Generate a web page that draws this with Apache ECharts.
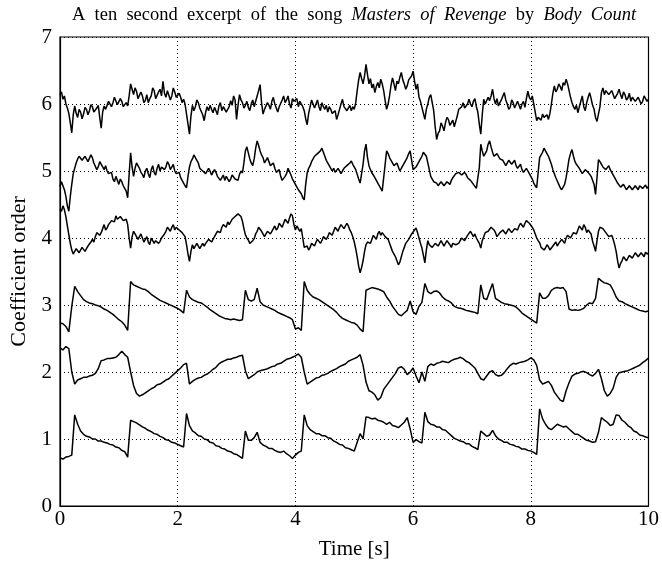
<!DOCTYPE html>
<html>
<head>
<meta charset="utf-8">
<script src="https://cdn.jsdelivr.net/npm/echarts@6/dist/echarts.min.js"></script>
<style>html,body{margin:0;padding:0;background:#fff;}#chart{width:662px;height:567px;}</style>
</head>
<body>
<div id="chart"></div>
<script>
// excerpt length in seconds; samples are evenly spaced over it
const excerptSeconds = 10;
const xTicks = [0, 2, 4, 6, 8, 10];
const yTicks = [0, 1, 2, 3, 4, 5, 6, 7];

// coefficient 1..3: sampled every 0.05 s
const coef1 = [
0.72,0.70,0.73,0.74,0.76,1.36,1.22,1.12,1.07,1.04,1.03,1.00,1.00,0.97,0.97,0.95,0.94,0.92,0.91,0.88,
0.87,0.83,0.81,0.73,1.28,1.26,1.24,1.21,1.18,1.16,1.13,1.11,1.08,1.07,1.04,1.02,0.99,0.98,0.95,0.94,
0.92,0.90,0.88,1.38,1.20,1.12,1.09,1.05,1.04,1.00,0.99,0.95,0.94,0.90,0.89,0.86,0.85,0.82,0.81,0.78,
0.77,0.74,0.71,1.12,0.98,0.98,1.02,1.10,0.95,0.91,0.89,0.86,0.86,0.83,0.81,0.80,0.82,0.78,0.75,0.71,
0.76,0.80,0.82,1.36,1.20,1.14,1.11,1.08,1.08,1.05,1.05,1.02,1.01,0.97,0.95,0.92,0.91,0.87,0.86,0.84,
0.82,0.95,1.08,1.00,1.33,1.32,1.30,1.31,1.28,1.27,1.25,1.22,1.25,1.20,1.19,1.17,1.21,1.25,1.32,1.15,
0.95,0.99,0.96,0.94,1.40,1.26,1.22,1.21,1.18,1.18,1.14,1.13,1.09,1.05,1.01,0.99,0.97,0.96,0.93,0.93,
0.89,0.87,0.84,1.12,1.08,1.04,1.06,1.13,1.05,1.00,0.98,0.95,0.95,0.92,0.91,0.89,0.88,0.85,0.85,0.83,
0.82,0.80,0.77,1.45,1.30,1.22,1.16,1.14,1.18,1.22,1.20,1.18,1.19,1.15,1.11,1.07,1.07,1.04,1.01,0.98,
0.97,0.95,0.96,1.10,1.32,1.28,1.25,1.20,1.22,1.36,1.35,1.28,1.25,1.20,1.17,1.12,1.10,1.06,1.05,1.03,
1.02];

const coef2 = [
2.36,2.33,2.38,2.35,2.00,1.82,1.88,1.90,1.92,1.92,1.94,1.95,1.98,2.05,2.17,2.18,2.20,2.20,2.21,2.22,
2.26,2.31,2.26,2.22,2.00,1.80,1.68,1.64,1.66,1.69,1.72,1.75,1.77,1.81,1.82,1.85,1.88,1.90,1.94,1.98,
2.02,2.06,2.11,2.13,1.82,1.86,1.89,1.91,1.92,1.95,1.97,2.00,2.04,2.07,2.12,2.15,2.17,2.19,2.19,2.21,
2.22,2.24,2.25,2.02,1.90,1.93,1.96,2.00,2.02,2.03,2.04,2.06,2.08,2.09,2.12,2.13,2.16,2.19,2.20,2.22,
2.24,2.27,2.22,2.00,1.82,1.85,1.88,1.91,1.92,1.95,1.96,1.98,2.01,2.03,2.05,2.08,2.10,2.12,2.16,2.18,
2.20,2.22,2.26,2.10,1.85,1.72,1.70,1.66,1.58,1.62,1.74,1.80,1.86,1.92,1.98,2.06,2.08,2.04,1.96,2.00,
2.06,1.94,1.84,2.00,1.86,2.08,2.12,2.10,2.13,2.14,2.16,2.15,2.14,2.17,2.19,2.20,2.22,2.20,2.16,2.14,
2.10,2.06,1.98,1.90,1.88,1.94,2.00,2.02,1.96,1.94,1.95,1.99,2.05,2.10,2.13,2.12,2.14,2.15,2.16,2.18,
2.21,2.18,2.10,1.88,1.82,1.84,1.86,1.80,1.70,1.64,1.58,1.56,1.72,1.84,1.94,1.97,1.98,2.00,2.01,1.99,
1.96,1.94,1.98,2.04,1.90,1.72,1.64,1.68,1.76,1.92,1.99,2.00,2.01,2.02,2.04,2.06,2.08,2.10,2.14,2.17,
2.21];

const coef3 = [
2.73,2.72,2.68,2.60,2.98,3.28,3.20,3.14,3.08,3.05,3.03,3.02,3.00,2.99,2.97,2.94,2.92,2.89,2.86,2.82,
2.78,2.75,2.70,2.62,3.35,3.30,3.28,3.26,3.24,3.23,3.20,3.16,3.13,3.10,3.07,3.05,3.03,3.01,2.99,2.97,
2.95,2.92,2.88,3.22,3.12,3.08,3.06,3.04,3.03,3.00,2.97,2.93,2.90,2.87,2.84,2.82,2.80,2.79,2.78,2.79,
2.78,2.77,2.78,3.22,3.08,3.06,3.08,3.25,3.05,3.00,2.98,2.96,2.94,2.92,2.89,2.87,2.85,2.83,2.81,2.78,
2.64,2.66,2.62,3.35,3.22,3.16,3.12,3.10,3.08,3.05,3.02,2.99,2.96,2.93,2.89,2.84,2.80,2.78,2.76,2.74,
2.73,2.70,2.64,2.60,3.22,3.24,3.26,3.25,3.24,3.22,3.20,3.12,3.06,2.98,2.92,2.86,2.84,2.88,2.92,3.06,
2.90,2.86,2.98,3.04,3.32,3.20,3.17,3.20,3.21,3.18,3.12,3.08,3.06,3.03,2.98,2.96,2.95,2.94,2.92,2.91,
2.90,2.89,2.87,3.30,3.10,3.08,3.20,3.32,3.10,3.07,3.04,3.02,3.01,3.00,2.99,2.97,2.93,2.88,2.85,2.82,
2.79,2.76,2.73,3.18,3.10,3.10,3.14,3.22,3.25,3.26,3.25,3.26,3.20,2.94,2.92,2.93,2.92,2.93,2.95,3.00,
3.03,3.02,3.10,3.40,3.36,3.33,3.32,3.30,3.22,3.12,3.06,3.05,3.02,3.00,2.98,2.96,2.94,2.92,2.91,2.90,
2.91];

// coefficient 4..6: sampled every 0.025 s
const coef4 = [
4.43,4.40,4.48,4.42,4.32,4.18,4.05,3.92,3.82,3.76,3.77,3.84,3.82,3.78,3.80,3.86,3.86,3.80,3.84,3.88,
3.90,3.94,3.98,3.94,4.02,4.08,4.10,4.04,4.08,4.14,4.20,4.12,4.15,4.20,4.22,4.26,4.28,4.24,4.33,4.28,
4.26,4.32,4.30,4.26,4.24,4.28,4.20,4.00,3.85,4.02,4.10,4.06,4.05,3.98,4.02,4.06,4.00,3.94,3.96,4.02,
3.94,3.90,4.00,3.96,3.92,3.96,3.98,3.92,3.95,4.00,4.02,4.06,4.10,4.16,4.13,4.10,4.16,4.20,4.12,4.16,
4.18,4.12,4.14,4.08,4.10,4.02,3.90,3.76,3.65,3.80,3.90,3.84,3.86,3.92,3.90,3.84,3.86,3.92,3.88,3.92,
3.94,3.98,4.00,3.94,3.96,4.02,4.06,4.10,4.12,4.08,4.16,4.20,4.20,4.16,4.24,4.20,4.22,4.28,4.27,4.32,
4.30,4.36,4.35,4.32,4.25,4.14,4.05,4.00,3.97,3.92,3.93,3.96,3.99,4.06,4.10,4.16,4.14,4.10,4.08,4.02,
4.06,4.10,4.12,4.06,4.10,4.14,4.18,4.12,4.15,4.22,4.20,4.16,4.22,4.28,4.26,4.22,4.30,4.36,4.33,4.20,
4.12,4.18,4.16,4.10,4.14,4.00,3.86,3.84,3.88,3.82,3.86,3.92,3.90,3.88,3.94,3.98,3.98,3.92,3.96,4.02,
4.04,3.98,4.02,4.08,4.08,4.04,4.10,4.16,4.14,4.10,4.16,4.20,4.20,4.14,4.16,4.22,4.18,4.12,4.08,4.02,
3.94,3.84,3.72,3.58,3.48,3.56,3.66,3.80,3.90,3.94,3.96,3.92,3.98,4.04,4.02,3.98,4.06,4.10,4.04,4.08,
4.08,4.02,4.04,3.98,3.92,3.86,3.80,3.76,3.72,3.66,3.60,3.64,3.72,3.80,3.86,3.92,3.94,3.98,4.02,4.06,
4.08,4.12,4.15,4.08,4.00,3.92,3.85,3.74,3.63,3.82,3.96,3.90,3.92,3.86,3.88,3.92,3.94,3.88,3.90,3.96,
3.95,3.88,3.92,3.96,3.98,3.90,3.86,3.92,3.94,3.90,3.88,3.92,3.96,4.00,4.02,3.96,3.98,4.04,4.05,4.10,
4.08,4.02,4.06,4.00,3.98,3.92,3.85,3.96,4.02,4.08,4.06,4.10,4.12,4.16,4.18,4.12,4.08,4.02,4.04,4.08,
4.06,4.12,4.10,4.06,4.08,4.14,4.12,4.08,4.10,4.14,4.16,4.12,4.18,4.22,4.20,4.16,4.22,4.26,4.25,4.22,
4.20,4.16,4.12,4.06,4.00,3.96,3.93,3.86,3.88,3.82,3.85,3.90,3.87,3.82,3.84,3.88,3.90,3.94,3.88,3.92,
3.93,3.98,3.96,3.92,4.00,4.04,4.05,4.00,4.02,4.08,4.10,4.06,4.12,4.18,4.16,4.12,4.20,4.16,4.08,4.12,
4.14,4.06,3.95,3.88,3.80,3.96,4.10,4.16,4.18,4.14,4.12,4.08,4.06,4.02,4.00,4.04,3.98,3.90,3.80,3.66,
3.55,3.62,3.66,3.72,3.72,3.66,3.68,3.74,3.74,3.70,3.72,3.78,3.76,3.72,3.73,3.78,3.75,3.72,3.79,3.76,
3.78];

const coef5 = [
4.77,4.84,4.85,4.72,4.62,4.48,4.40,4.62,4.80,4.96,5.04,5.12,5.18,5.22,5.24,5.16,5.14,5.22,5.20,5.14,
5.16,5.24,5.20,5.12,5.10,5.02,5.06,5.14,5.12,5.06,5.02,5.08,5.00,4.96,4.94,4.98,4.88,4.84,4.92,4.86,
4.80,4.88,4.84,4.78,4.76,4.70,4.60,4.95,5.27,5.06,4.92,5.04,5.12,5.08,5.04,4.98,4.95,4.90,5.00,5.04,
4.96,4.90,5.02,5.08,4.98,4.94,5.04,5.10,5.00,5.06,5.08,5.02,5.06,5.14,5.10,5.02,5.04,5.10,5.00,4.96,
4.94,4.98,4.90,4.86,4.82,4.78,4.75,4.92,5.06,5.14,5.18,5.24,5.22,5.16,5.12,5.04,5.06,5.00,5.02,4.96,
4.98,5.04,5.00,4.94,4.95,5.02,4.98,4.92,4.92,4.86,4.90,4.94,4.86,4.92,4.90,4.84,4.88,4.94,4.92,4.88,
4.90,4.86,4.95,5.00,4.97,5.12,5.30,5.36,5.27,5.18,5.12,5.08,5.18,5.34,5.45,5.38,5.30,5.24,5.20,5.12,
5.16,5.20,5.14,5.08,5.08,5.12,5.04,4.98,4.98,5.02,4.92,4.86,4.87,4.92,4.96,5.04,5.02,4.94,4.88,4.84,
4.80,4.76,4.72,4.70,4.66,4.60,4.57,4.80,4.97,5.04,5.08,5.14,5.16,5.22,5.20,5.26,5.24,5.30,5.34,5.28,
5.22,5.16,5.14,5.08,5.06,5.00,5.04,4.98,5.00,5.04,5.02,4.96,4.98,5.04,5.02,5.08,5.06,5.12,5.15,5.10,
5.08,5.02,4.95,4.88,4.82,4.96,5.10,5.30,5.40,5.20,5.08,5.02,4.97,4.94,4.90,4.86,4.82,4.78,4.74,4.70,
4.72,5.10,5.30,5.26,5.20,5.16,5.14,5.08,5.10,5.12,5.06,5.00,5.04,5.08,5.10,5.16,5.20,5.26,5.30,5.16,
5.02,5.00,5.06,5.10,5.12,5.18,5.22,5.28,5.30,5.22,5.12,5.02,4.92,4.88,4.84,4.86,4.82,4.78,4.80,4.84,
4.82,4.78,4.80,4.84,4.82,4.80,4.86,4.90,4.90,4.96,4.94,4.98,4.97,4.94,4.92,4.98,4.95,4.90,4.88,4.86,
4.84,4.80,4.78,4.74,4.72,5.05,5.40,5.30,5.22,5.26,5.30,5.40,5.45,5.36,5.28,5.22,5.20,5.26,5.22,5.18,
5.20,5.16,5.14,5.08,5.10,5.16,5.14,5.10,5.12,5.16,5.08,5.04,5.06,5.10,5.02,4.98,5.00,5.04,5.00,4.96,
4.94,4.88,4.82,4.78,4.75,4.98,5.20,5.24,5.28,5.34,5.32,5.26,5.22,5.16,5.10,5.02,4.96,4.90,4.85,4.80,
4.75,4.72,4.72,4.80,4.90,5.04,5.18,5.26,5.32,5.22,5.14,5.10,5.08,5.04,5.00,4.96,4.97,5.02,5.00,4.98,
4.96,4.92,4.90,4.80,4.65,4.90,5.17,5.14,5.12,5.06,5.08,5.02,5.05,5.08,5.02,4.98,4.96,4.90,4.86,4.82,
4.80,4.76,4.76,4.80,4.78,4.72,4.74,4.78,4.77,4.72,4.73,4.78,4.76,4.72,4.78,4.80,4.74,4.76,4.79,4.74,
4.77];

const coef6 = [
6.14,6.18,6.07,6.12,6.00,5.94,5.86,5.72,5.57,5.84,5.97,5.86,5.80,5.92,5.88,5.78,5.85,5.95,5.92,5.84,
5.90,5.99,5.96,5.88,5.86,5.94,5.98,5.80,5.64,5.88,5.97,5.92,5.98,6.04,6.06,5.96,6.02,6.10,6.08,5.99,
5.98,6.08,6.04,5.96,5.95,6.02,5.97,6.12,6.30,6.22,6.14,6.24,6.19,6.08,6.10,6.18,6.12,6.02,6.05,6.14,
6.02,6.08,6.12,6.24,6.20,6.08,6.10,6.18,6.22,6.12,6.34,6.16,6.10,6.20,6.22,6.06,6.12,6.24,6.18,6.10,
6.09,6.16,6.10,6.02,6.07,6.00,5.85,5.70,5.55,5.82,5.98,5.90,5.96,6.06,6.02,5.94,5.92,5.84,5.75,5.88,
5.96,5.90,5.98,5.92,5.87,5.95,5.90,5.84,5.97,6.02,5.90,5.96,5.94,5.88,5.86,5.96,6.05,5.98,6.12,6.06,
5.77,5.98,6.14,6.06,6.02,5.94,5.98,6.04,5.95,5.90,6.00,6.06,5.96,6.04,6.12,6.20,6.29,6.02,5.85,5.92,
5.94,6.02,5.98,5.92,6.04,6.10,6.00,5.94,5.88,5.96,5.98,6.06,6.12,6.02,6.06,6.12,6.00,5.94,6.08,6.04,
6.02,6.08,5.96,6.04,6.02,5.96,5.90,5.78,5.69,5.86,5.96,6.06,6.04,5.94,6.00,6.06,5.96,5.90,6.02,5.96,
5.92,5.98,5.88,5.96,5.92,5.86,5.84,5.90,5.77,5.84,5.92,6.00,6.07,5.96,5.98,5.90,5.94,5.98,5.90,5.96,
5.92,6.02,6.20,6.36,6.47,6.38,6.30,6.42,6.59,6.44,6.30,6.38,6.24,6.30,6.17,6.26,6.32,6.24,6.37,6.30,
6.20,6.05,5.92,6.00,6.12,6.28,6.39,6.30,6.20,6.34,6.30,6.40,6.47,6.36,6.30,6.22,6.27,6.36,6.37,6.42,
6.49,6.34,6.22,6.30,6.10,6.04,5.95,5.86,5.77,5.92,6.00,6.10,6.14,6.02,5.90,5.66,5.47,5.56,5.60,5.72,
5.67,5.60,5.72,5.80,5.77,5.68,5.70,5.76,5.66,5.74,5.82,5.92,5.90,5.96,6.02,5.94,5.92,6.00,6.07,6.00,
5.96,6.04,6.08,5.96,5.88,5.70,5.55,5.84,6.07,6.00,5.98,6.10,6.05,6.12,6.22,6.08,6.00,6.08,5.97,6.02,
6.06,6.12,6.17,6.06,6.00,5.92,5.95,6.06,6.02,5.94,5.96,6.04,5.98,5.92,6.00,6.04,5.95,6.08,6.19,6.10,
6.06,6.12,6.00,5.88,5.75,5.80,5.82,5.76,5.85,5.80,5.78,5.84,5.77,5.86,6.00,6.16,6.27,6.18,6.22,6.30,
6.26,6.20,6.32,6.28,6.37,6.30,6.20,6.10,6.02,5.96,5.92,5.98,5.87,5.96,6.04,6.12,5.96,5.90,6.02,6.10,
6.17,6.08,5.98,5.92,5.80,5.74,5.72,5.96,6.17,6.24,6.14,6.20,6.22,6.14,6.12,6.20,6.18,6.08,6.10,6.16,
6.22,6.14,6.08,6.18,6.14,6.06,6.09,6.16,6.04,6.10,6.12,6.04,6.02,6.10,6.08,6.00,6.04,6.12,6.10,6.04,
6.07];

const allSeries = [coef1, coef2, coef3, coef4, coef5, coef6];

function pairs(vals) {
  const step = excerptSeconds / (vals.length - 1);
  return vals.map((v, i) => [Math.round(i * step * 10000) / 10000, v]);
}

const serif = '"Liberation Serif", "DejaVu Serif", serif';
const chart = echarts.init(document.getElementById('chart'), null, {renderer: 'canvas'});
chart.setOption({
  animation: false,
  backgroundColor: '#fff',
  title: {
    text: '{n|A  ten  second  excerpt  of  the  song  }{i|Masters  of  Revenge}{n|  by  }{i|Body  Count}',
    left: 349,
    textAlign: 'center',
    top: 1,
    textStyle: {
      fontWeight: 'normal',
      rich: {
        n: {fontFamily: serif, fontSize: 18.5, fontWeight: 'normal', color: '#000'},
        i: {fontFamily: serif, fontSize: 18.5, fontWeight: 'normal', fontStyle: 'italic', color: '#000'}
      }
    }
  },
  grid: {left: 58, right: 10, top: 37, bottom: 61, show: true, borderColor: '#000', borderWidth: 1.2, backgroundColor: 'transparent'},
  xAxis: {
    type: 'value', min: xTicks[0], max: xTicks[xTicks.length - 1], interval: 2,
    name: 'Time [s]', nameLocation: 'middle', nameGap: 33,
    nameTextStyle: {fontFamily: serif, fontSize: 21, color: '#000'},
    axisLine: {show: true, lineStyle: {color: '#000', width: 1.2}},
    axisTick: {show: false},
    axisLabel: {fontFamily: serif, fontSize: 21, color: '#000', margin: 3},
    splitLine: {show: true, lineStyle: {color: '#000', type: [1, 3], width: 1}}
  },
  yAxis: {
    type: 'value', min: yTicks[0], max: yTicks[yTicks.length - 1], interval: 1,
    name: 'Coefficient order', nameLocation: 'middle', nameGap: 30,
    nameTextStyle: {fontFamily: serif, fontSize: 22, color: '#000'},
    axisLine: {show: true, lineStyle: {color: '#000', width: 1.2}},
    axisTick: {show: false},
    axisLabel: {fontFamily: serif, fontSize: 21, color: '#000', margin: 8},
    splitLine: {show: true, lineStyle: {color: '#000', type: [1, 3], width: 1}}
  },
  series: allSeries.map(vals => ({
    type: 'line',
    data: pairs(vals),
    showSymbol: false,
    symbol: 'none',
    lineStyle: {color: '#000', width: 1.5},
    z: 3
  }))
});
</script>
</body>
</html>
